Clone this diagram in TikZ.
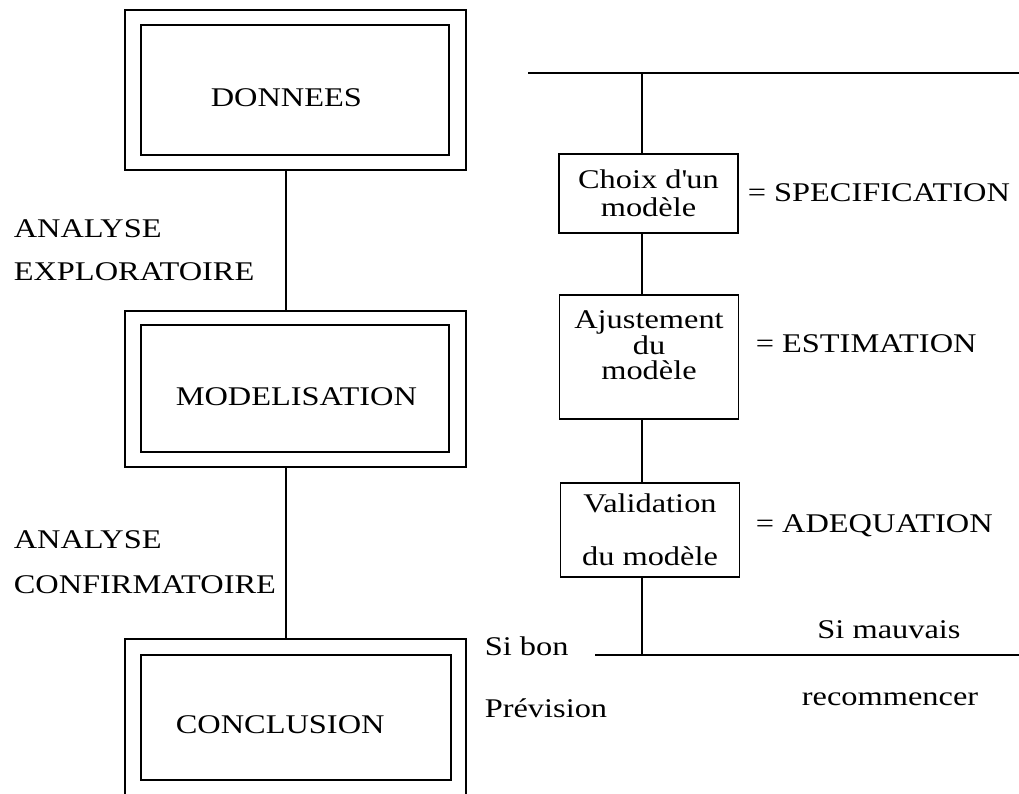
\documentclass[tikz,border=0pt]{standalone}
\usepackage{fontspec}
\setmainfont{Liberation Serif}[FakeStretch=1.2]
\newcommand\txtfont{\fontsize{27pt}{24pt}\selectfont}
\begin{document}
\begin{tikzpicture}[x=1pt, y=-1pt, line width=1.5pt,
  frame/.style={draw, rectangle, inner sep=0pt},
  title/.style={anchor=base west, inner sep=0pt, font=\txtfont},
  lbl/.style={anchor=base west, inner sep=0pt, font=\txtfont},
  stepbox/.style={draw, rectangle, inner sep=0pt, align=center,
    minimum width=179pt, font=\txtfont}]
\useasboundingbox (0,0) rectangle (1019,794);
\clip (0,0) rectangle (1019,794);

% left column: double-framed stages
\node[frame, minimum width=341pt, minimum height=160pt] (dno) at (295.5,90) {};
\node[frame, minimum width=308pt, minimum height=130pt] (dni) at (295,90) {};
\node[title] (dnt) at (210,107) {DONNEES};

\node[frame, minimum width=341pt, minimum height=156pt] (moo) at (295.5,389) {};
\node[frame, minimum width=308pt, minimum height=127pt] (moi) at (295,388.5) {};
\node[title] (mot) at (175,405) {MODELISATION};

\node[frame, minimum width=341pt, minimum height=180pt] (coo) at (295.5,729) {};
\node[frame, minimum width=310pt, minimum height=125pt] (coi) at (296,717.5) {};
\node[title] (cot) at (175,733) {CONCLUSION};

\draw ([xshift=-9.5pt]dno.south) -- ([xshift=-9.5pt]moo.north);
\draw ([xshift=-9.5pt]moo.south) -- ([xshift=-9.5pt]coo.north);

% step labels
\node[lbl] (an1) at (13,237) {ANALYSE};
\node[lbl] (ex) at (13,280) {EXPLORATOIRE};
\node[lbl] (an2) at (13,548) {ANALYSE};
\node[lbl] (cf) at (13,593) {CONFIRMATOIRE};

% right column: modelling loop
\coordinate (tl) at (528,73);
\coordinate (tr) at (1019,73);
\coordinate (tj) at (642,73);
\coordinate (bl) at (595,655);
\coordinate (br) at (1019,655);
\coordinate (bj) at (642,655);
\draw (tl) -- (tr);
\draw (bl) -- (br);

\node[stepbox, minimum height=79pt] (ch) at (648.5,193.5) {Choix d\textquotesingle un\\[4pt]modèle};
\node[stepbox, minimum height=124pt] (aj) at (649,357) {Ajustement\\[1pt]du\\[1pt]modèle\\~};
\node[stepbox, minimum height=94pt] (va) at (650,530) {Validation\\[29pt]du modèle};

\draw (tj) -- ([xshift=-6.5pt]ch.north);
\draw ([xshift=-6.5pt]ch.south) -- ([xshift=-7pt]aj.north);
\draw ([xshift=-7pt]aj.south) -- ([xshift=-8pt]va.north);
\draw ([xshift=-8pt]va.south) -- (bj);

\node[lbl] (sp) at (747,202) {= SPECIFICATION};
\node[lbl] (es) at (755,352) {= ESTIMATION};
\node[lbl] (ad) at (755,532) {= ADEQUATION};

\node[lbl] (sb) at (484,655) {Si bon};
\node[lbl] (pr) at (484,717) {Prévision};
\node[anchor=base, inner sep=0pt, font=\txtfont] (sm) at (889,638) {Si mauvais};
\node[anchor=base, inner sep=0pt, font=\txtfont] (rc) at (890,705) {recommencer};
\end{tikzpicture}
\end{document}
